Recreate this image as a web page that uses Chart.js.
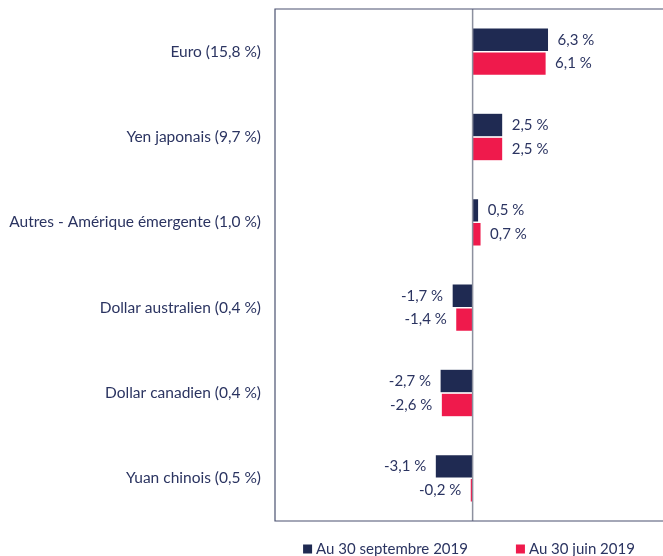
<!DOCTYPE html>
<html lang="fr">
<head>
<meta charset="UTF-8">
<title>Devises</title>
<script src="https://cdn.jsdelivr.net/npm/chart.js"></script>
<style>
  html, body { margin: 0; padding: 0; background: #fff; }
  #wrap { width: 663px; height: 556px; }
</style>
</head>
<body>
<div id="wrap"><canvas id="myChart" width="663" height="556"></canvas></div>
<script>
// donnees
const categories = ['Euro (15,8 %)', 'Yen japonais (9,7 %)', 'Autres - Amérique émergente (1,0 %)',
  'Dollar australien (0,4 %)', 'Dollar canadien (0,4 %)', 'Yuan chinois (0,5 %)'];
const serieSept = [6.3, 2.5, 0.5, -1.7, -2.7, -3.1];
const serieJuin = [6.1, 2.5, 0.7, -1.4, -2.6, -0.2];
const seriesNames = ['Au 30 septembre 2019', 'Au 30 juin 2019'];

const navy = '#1f2a52';
const red = '#ef1a4c';
const textColor = '#2b3461';
const fontFamily = 'Lato, "Open Sans", sans-serif';

function fmt(v) {
  return v.toFixed(1).replace('.', ',') + ' %';
}

// cadre, ligne du zero, etiquettes des barres et legende
const extras = {
  id: 'extras',
  afterDatasetsDraw(chart) {
    const c = chart.ctx;
    const a = chart.chartArea;
    const x0 = chart.scales.x.getPixelForValue(0);
    c.save();
    c.strokeStyle = '#8c909e';
    c.lineWidth = 1.5;
    c.beginPath();
    c.moveTo(x0, a.top);
    c.lineTo(x0, a.bottom);
    c.stroke();
    c.strokeStyle = '#4a5170';
    c.lineWidth = 1.2;
    c.beginPath();
    c.moveTo(a.right + 2, a.top);
    c.lineTo(a.left, a.top);
    c.lineTo(a.left, a.bottom);
    c.lineTo(a.right + 2, a.bottom);
    c.stroke();

    c.font = '15px ' + fontFamily;
    c.fillStyle = textColor;
    c.textBaseline = 'middle';
    chart.data.datasets.forEach((ds, i) => {
      const meta = chart.getDatasetMeta(i);
      meta.data.forEach((el, j) => {
        const v = ds.data[j];
        if (v >= 0) {
          c.textAlign = 'left';
          c.fillText(fmt(v), el.x + 9, el.y);
        } else {
          c.textAlign = 'right';
          c.fillText(fmt(v), el.x - 9, el.y);
        }
      });
    });

    // legende centree sous la zone du graphique
    const box = 9, gap = 4, spacing = 48;
    const ds = chart.data.datasets;
    const widths = ds.map(d => box + gap + c.measureText(d.label).width);
    const total = widths.reduce((s, w) => s + w, 0) + spacing * (ds.length - 1);
    let x = (a.left + a.right) / 2 - total / 2;
    const y = 549;
    c.textAlign = 'left';
    ds.forEach((d, i) => {
      c.fillStyle = d.backgroundColor;
      c.fillRect(x, y - box / 2, box, box);
      c.fillStyle = textColor;
      c.fillText(d.label, x + box + gap, y);
      x += widths[i] + spacing;
    });
    c.restore();
  }
};

const ctx = document.getElementById('myChart');
new Chart(ctx, {
  type: 'bar',
  data: {
    labels: categories,
    datasets: [{
      label: seriesNames[0],
      data: serieSept,
      backgroundColor: navy,
      borderColor: '#ffffff',
      borderWidth: 0.5,
      barPercentage: 0.98,
      categoryPercentage: 0.56
    }, {
      label: seriesNames[1],
      data: serieJuin,
      backgroundColor: red,
      borderColor: '#ffffff',
      borderWidth: 0.5,
      barPercentage: 0.98,
      categoryPercentage: 0.56
    }]
  },
  options: {
    indexAxis: 'y',
    responsive: false,
    animation: false,
    layout: { padding: { top: 9, left: 0, right: 0, bottom: 35 } },
    scales: {
      x: {
        min: -16.4,
        max: 15.8,
        ticks: { display: false },
        grid: { display: false, drawTicks: false },
        border: { display: false }
      },
      y: {
        grid: { display: false, drawTicks: false },
        border: { display: false },
        ticks: {
          padding: 14,
          color: textColor,
          font: { family: fontFamily, size: 15.5 }
        },
        afterFit(scale) {
          scale.width = 275;
          scale.paddingTop = 0;
          scale.paddingBottom = 0;
        }
      }
    },
    plugins: {
      tooltip: { enabled: false },
      legend: { display: false }
    }
  },
  plugins: [extras]
});
</script>
</body>
</html>
